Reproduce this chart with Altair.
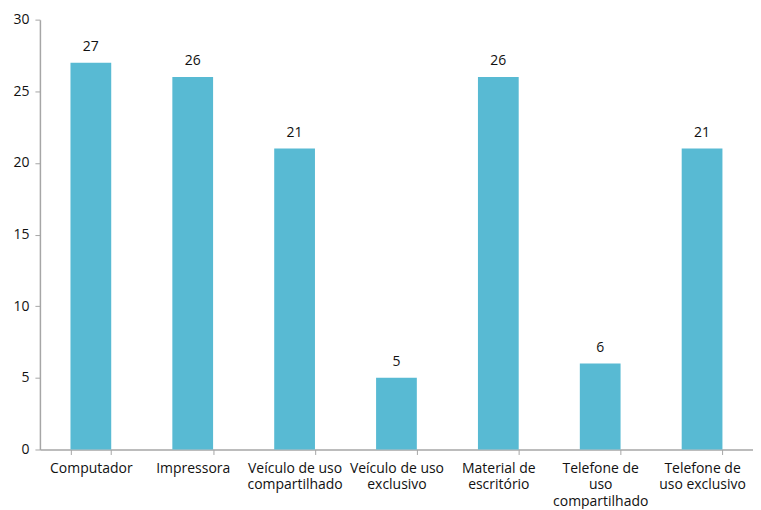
import altair as alt
import pandas as pd

categories = ["Computador", "Impressora", "Veículo de uso|compartilhado", "Veículo de uso|exclusivo",
              "Material de|escritório", "Telefone de|uso|compartilhado", "Telefone de|uso exclusivo"]
values = [27, 26, 21, 5, 26, 6, 21]

df = pd.DataFrame({"cat": categories, "val": values})

FONT = "Open Sans"

base = alt.Chart(df).encode(
    x=alt.X("cat:N", sort=categories, title=None,
            scale=alt.Scale(paddingInner=0.6, paddingOuter=0.3),
            axis=alt.Axis(labelAngle=0, labelExpr="split(datum.label, '|')",
                          tickBand="extent", tickSize=5, domainColor="#A6A6A6", tickColor="#A6A6A6",
                          labelColor="#111111", labelFont=FONT, labelFontSize=14, labelPadding=7,
                          labelLineHeight=16.5, domainWidth=1.5)),
    y=alt.Y("val:Q", title=None,
            scale=alt.Scale(domain=[0, 30]),
            axis=alt.Axis(values=[0, 5, 10, 15, 20, 25, 30], grid=False, tickSize=5,
                          domainColor="#A6A6A6", tickColor="#A6A6A6", labelColor="#111111",
                          labelFont=FONT, labelFontSize=14, labelPadding=6, domainWidth=1.5)),
)

bars = base.mark_bar(color="#58BAD3")
labels = base.mark_text(baseline="bottom", dy=-9, font=FONT, fontSize=14, color="#111111").encode(
    text="val:Q")

chart = (bars + labels).properties(
    width=715, height=431,
    padding={"left": 4, "top": 4, "right": 0, "bottom": 0},
).configure_view(stroke=None)

chart.save("out.html", embed_options={"renderer": "svg", "actions": False})
